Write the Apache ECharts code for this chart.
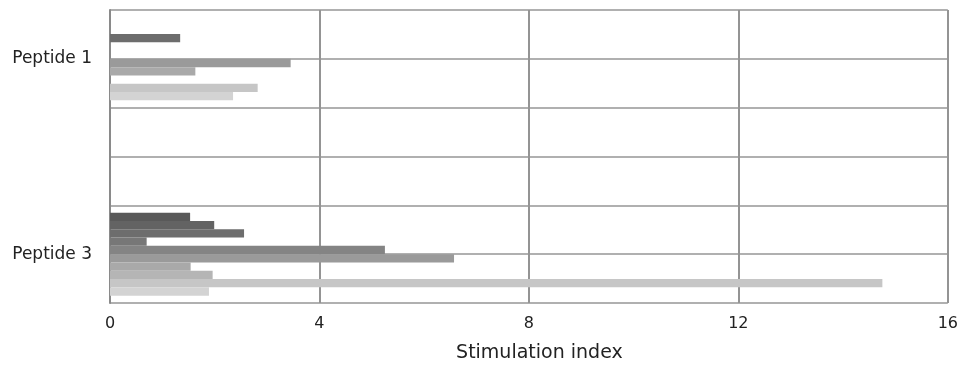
<!DOCTYPE html>
<html><head><meta charset="utf-8">
<script src="https://cdn.jsdelivr.net/npm/echarts@6/dist/echarts.min.js"></script>
<style>html,body{margin:0;padding:0;background:#fff}#c{width:961px;height:369px}</style>
</head><body><div id="c"></div>
<script>
const categories = ["Peptide 1", "Peptide 2", "Peptide 3"];
const s1 = [null, null, 1.53];
const s2 = [null, null, 1.99];
const s3 = [1.34, null, 2.56];
const s4 = [null, null, 0.70];
const s5 = [null, null, 5.25];
const s6 = [3.45, null, 6.57];
const s7 = [1.63, null, 1.54];
const s8 = [null, null, 1.96];
const s9 = [2.82, null, 14.75];
const s10 = [2.35, null, 1.89];
const seriesValues = [s1, s2, s3, s4, s5, s6, s7, s8, s9, s10];
const colors = ["#595959", "#636363", "#6d6d6d", "#777777", "#848484", "#9a9a9a", "#a9a9a9", "#b5b5b5", "#c6c6c6", "#d3d3d3"];
const xTicks = [0, 4, 8, 12, 16];

const chart = echarts.init(document.getElementById('c'));
chart.setOption({
  animation: false,
  backgroundColor: '#ffffff',
  textStyle: { fontFamily: 'DejaVu Sans' },
  grid: { left: 110, right: 13, top: 10, bottom: 66 },
  xAxis: {
    type: 'value', min: xTicks[0], max: xTicks[xTicks.length - 1], interval: 4,
    name: 'Stimulation index', nameLocation: 'middle', nameGap: 41,
    nameTextStyle: { fontSize: 19, color: '#222', fontFamily: 'DejaVu Sans', padding: [0, 0, 0, 21] },
    axisLine: { show: false },
    axisTick: { show: false },
    axisLabel: { fontSize: 16, color: '#222', margin: 13, fontFamily: 'DejaVu Sans' },
    splitLine: { show: true, lineStyle: { color: '#949494', width: 2 } }
  },
  yAxis: [{
    type: 'category', data: categories, inverse: true,
    axisLine: { show: true, lineStyle: { color: '#8a8a8a', width: 2 } },
    axisTick: { show: false },
    axisLabel: { interval: 1, fontSize: 17, color: '#222', margin: 18, fontFamily: 'DejaVu Sans' },
    splitLine: { show: false }
  }, {
    type: 'value', min: 0, max: 6, interval: 1, position: 'left',
    axisLine: { show: false }, axisTick: { show: false }, axisLabel: { show: false },
    splitLine: { show: true, lineStyle: { color: '#b0b0b0', width: 2 } }
  }],
  series: seriesValues.map((v, i) => ({
    type: 'bar', data: v, yAxisIndex: 0,
    barGap: '0%', barCategoryGap: '15%',
    itemStyle: { color: colors[i] }
  }))
});
</script>
</body></html>
